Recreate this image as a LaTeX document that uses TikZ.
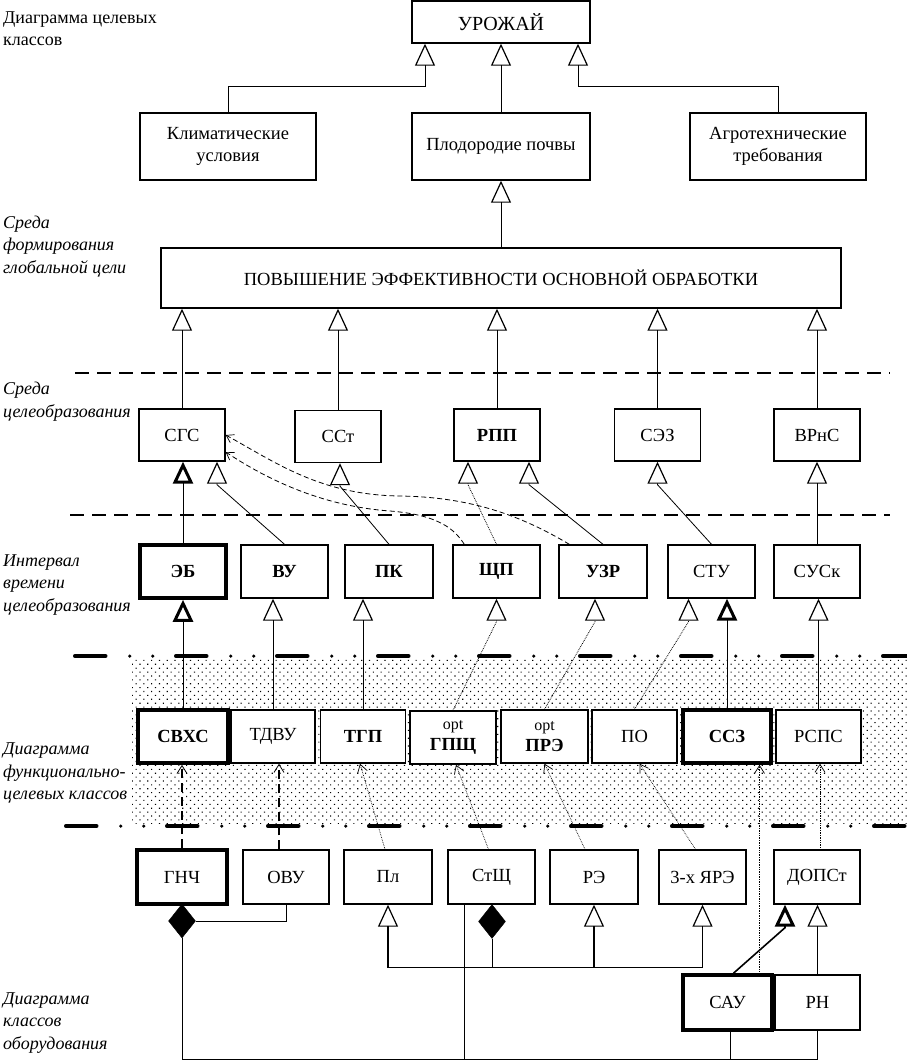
\documentclass[tikz,border=0pt]{standalone}
\usepackage{fontspec}
\setmainfont{Liberation Serif}
\usetikzlibrary{arrows.meta,shapes.geometric,patterns.meta}
\newcommand{\boxfont}{\fontsize{18.5}{22}\selectfont}
\newcommand{\zonefont}{\fontsize{18}{22.5}\selectfont\itshape}

\begin{document}
\begin{tikzpicture}[x=1pt, y=-1pt,
    box/.style={draw, fill=white, line width=1.4pt, inner sep=0pt,
        minimum width=86pt, minimum height=53pt, align=center, font=\boxfont},
    thickbox/.style={box, line width=3.6pt},
    boldtext/.style={font=\boxfont\bfseries},
    zone/.style={anchor=west, align=left, inner sep=0pt, font=\zonefont},
    gen/.style={line width=0.8pt, -{Triangle[open, length=22pt, width=20pt, line width=1.2pt]}},
    genthick/.style={line width=0.8pt, -{Triangle[open, length=22pt, width=20pt, line width=3pt]}},
    dep/.style={line width=0.7pt, densely dotted, -{Straight Barb[length=8pt, width=10pt, line width=0.7pt]}},
    depthick/.style={line width=1.6pt, dash pattern=on 9pt off 5pt, -{Straight Barb[length=8pt, width=10pt, line width=0.8pt]}},
    curvedep/.style={line width=0.8pt, dash pattern=on 5pt off 3pt, -{Straight Barb[length=7pt, width=9pt, line width=0.7pt]}},
    seam/.style={line width=1.7pt, dash pattern=on 14pt off 8pt},
    bandline/.style={line width=3.5pt, line cap=round, dash pattern=on 31pt off 24pt on 0pt off 23pt on 0pt off 23pt},
    comp/.style={diamond, draw, fill=black, inner sep=0pt, minimum width=27pt, minimum height=34pt}]

    \useasboundingbox (0,0) rectangle (907,1061);

    % zones on the left
    \node[zone, font=\fontsize{18}{22}\selectfont] (zTop) at (3,29) {Диаграмма целевых\\классов};
    \node[zone] (zGlob) at (3,246.5) {Среда\\формирования\\глобальной цели};
    \node[zone] (zGoal) at (3,401.5) {Среда\\целеобразования};
    \node[zone] (zTime) at (3,585) {Интервал\\времени\\целеобразования};
    \node[zone] (zFunc) at (3,773) {Диаграмма\\функционально-\\целевых классов};
    \node[zone] (zEquip) at (3,1023) {Диаграмма\\классов\\оборудования};

    % band of functional classes
    \fill[pattern={Dots[angle=45, distance=5.5pt, radius=0.8pt]}] (132,659) rectangle (907,823);
    \draw[bandline] (74.75,656) -- (907,656);
    \draw[bandline] (65.75,826) -- (907,826);
    \draw[seam] (75,373) -- (890,373);
    \draw[seam] (70,515) -- (890,515);

    % target classes
    \node[box, minimum width=178pt, minimum height=42pt, font=\fontsize{20}{24}\selectfont] (uro) at (501,22) {УРОЖАЙ};
    \node[box, minimum width=176pt, minimum height=67pt] (klim) at (228,146.5) {Климатические\\условия};
    \node[box, minimum width=178pt, minimum height=67pt] (plod) at (501,146.5) {Плодородие почвы};
    \node[box, minimum width=176pt, minimum height=67pt] (agro) at (778,146.5) {Агротехнические\\требования};
    \node[box, minimum width=680pt, minimum height=60pt] (povysh) at (501,278) {ПОВЫШЕНИЕ ЭФФЕКТИВНОСТИ ОСНОВНОЙ ОБРАБОТКИ};

    \draw[gen] (klim.north) -- ++(0,-26) -| ([xshift=-76pt]uro.south);
    \draw[gen] (plod.north) -- (uro.south);
    \draw[gen] (agro.north) -- ++(0,-26) -| ([xshift=77pt]uro.south);
    \draw[gen] (povysh.north) -- (plod.south);

    % goal environment
    \node[box, minimum height=52pt] (sgs) at (182,435) {СГС};
    \node[box, minimum height=52pt] (sst) at (338,436.5) {ССт};
    \node[box, minimum height=52pt, boldtext] (rpp) at (497,435) {РПП};
    \node[box, minimum height=52pt] (sez) at (657.5,435) {СЭЗ};
    \node[box, minimum height=52pt] (vrns) at (817,435) {ВРнС};

    \foreach \n in {sgs, sst, rpp, sez, vrns}
        \draw[gen] (\n.north) -- (\n.north |- povysh.south);

    % time interval
    \node[thickbox, boldtext] (eb) at (183,571.5) {ЭБ};
    \node[box, minimum width=87pt, boldtext] (vu) at (284.5,571.5) {ВУ};
    \node[box, minimum width=88pt, boldtext] (pk) at (389,571.5) {ПК};
    \node[box, minimum width=87pt, boldtext] (shp) at (496.5,571.5) {ЩП};
    \node[box, minimum width=88pt, boldtext] (uzr) at (603,571.5) {УЗР};
    \node[box, minimum width=87pt] (stu) at (711.5,571.5) {СТУ};
    \node[box] (susk) at (817,571.5) {СУСк};

    \draw[genthick] (eb.north) -- (eb.north |- sgs.south);
    \draw[gen] (vu.north) -- ([xshift=35pt, yshift=-23pt]sgs.south) -- ([xshift=35pt]sgs.south);
    \draw[gen] (pk.north) -- ([xshift=2pt, yshift=-23pt]sst.south) -- ([xshift=2pt]sst.south);
    \draw[gen, densely dotted] (shp.north) -- ([xshift=-29pt, yshift=-23pt]rpp.south) -- ([xshift=-29pt]rpp.south);
    \draw[gen] (uzr.north) -- ([xshift=32pt, yshift=-23pt]rpp.south) -- ([xshift=32pt]rpp.south);
    \draw[gen] (stu.north) -- ([yshift=-23pt]sez.south) -- (sez.south);
    \draw[gen] (susk.north) -- (susk.north |- vrns.south);

    \draw[curvedep] ([xshift=11pt]uzr.north west) .. controls (520,515) and (470,497) .. (400,496)
        .. controls (320,495) and (275,462) .. (sgs.east);
    \draw[curvedep] ([xshift=12pt]shp.north west) .. controls (455,530) and (440,515) .. (390,511)
        .. controls (320,506) and (265,478) .. ([yshift=-17pt]sgs.east);

    % functional-target classes
    \node[thickbox, minimum width=90pt, boldtext] (svhs) at (183,736.5) {СВХС};
    \node[box, minimum width=84pt] (tdvu) at (273,736.5) {ТДВУ};
    \node[box, minimum width=85pt, boldtext] (tgp) at (363,736.5) {ТГП};
    \node[box] (gpsh) at (453,737.5) {{\fontsize{16}{16}\selectfont opt}\\[-1pt]\textbf{ГПЩ}};
    \node[box, minimum width=87pt] (pre) at (544.5,736.5) {{\fontsize{16}{16}\selectfont opt}\\[-1pt]\textbf{ПРЭ}};
    \node[box, minimum width=85pt] (po) at (634.5,736.5) {ПО};
    \node[thickbox, minimum width=88pt, boldtext] (ssz) at (727,736.5) {ССЗ};
    \node[box, minimum width=85pt] (rsps) at (818.5,736.5) {РСПС};

    \draw[genthick] (svhs.north) -- (svhs.north |- eb.south);
    \draw[gen] (tdvu.north) -- (tdvu.north |- vu.south);
    \draw[gen] (tgp.north) -- (tgp.north |- pk.south);
    \draw[gen, densely dotted] (gpsh.north) -- ([yshift=-23pt]shp.south) -- (shp.south);
    \draw[gen, densely dotted] (pre.north) -- ([xshift=-8pt, yshift=-23pt]uzr.south) -- ([xshift=-8pt]uzr.south);
    \draw[gen, densely dotted] (po.north) -- ([xshift=-23pt, yshift=-23pt]stu.south) -- ([xshift=-23pt]stu.south);
    \draw[genthick] (ssz.north) -- (ssz.north |- stu.south);
    \draw[gen] (rsps.north) -- (rsps.north |- susk.south);

    % equipment classes
    \node[thickbox, minimum width=90pt, minimum height=54pt] (gnch) at (182,877) {ГНЧ};
    \node[box, minimum height=54pt] (ovu) at (286,877) {ОВУ};
    \node[box, minimum width=88pt, minimum height=54pt] (pl) at (388,877) {Пл};
    \node[box, minimum width=87pt, minimum height=54pt] (stsh) at (491.5,877) {СтЩ};
    \node[box, minimum width=88pt, minimum height=54pt] (re) at (594,877) {РЭ};
    \node[box, minimum width=87pt, minimum height=54pt] (yare) at (702.5,877) {3-х ЯРЭ};
    \node[box, minimum height=54pt] (dopst) at (817,877) {ДОПСт};
    \node[thickbox, minimum width=89pt, minimum height=55pt] (sau) at (727.5,1002.5) {САУ};
    \node[box, minimum width=85pt, minimum height=55pt] (rn) at (817.5,1002.5) {РН};

    \draw[depthick] (gnch.north) -- (gnch.north |- svhs.south);
    \draw[depthick] ([xshift=-7pt]ovu.north) -- ([xshift=-7pt]ovu.north |- tdvu.south);
    \draw[dep] ([xshift=-3pt]pl.north) -- ([xshift=-3pt]tgp.south);
    \draw[dep] ([xshift=-3pt]stsh.north) -- ([xshift=3pt]gpsh.south);
    \draw[dep] ([xshift=-9pt]re.north) -- (pre.south);
    \draw[dep] ([xshift=-7pt]yare.north) -- ([xshift=5pt]po.south);
    \draw[dep] ([xshift=32pt]sau.north) -- ([xshift=32pt]sau.north |- ssz.south);
    \draw[dep] ([xshift=3pt]dopst.north) -- ([xshift=3pt]dopst.north |- rsps.south);

    \node[comp] (dg) at (182,921) {};
    \node[comp] (ds) at (492,921.5) {};
    \draw[line width=0.8pt] (ovu.south) |- (dg.east);
    \draw[line width=0.8pt] (ds.south) -- ++(0,29) coordinate (js);
    \draw[gen, line width=1.2pt] (js) -| (pl.south);
    \draw[gen, line width=1.2pt] (js) -| (re.south);
    \draw[gen, line width=1.2pt] (js) -| (yare.south);

    \draw[genthick, line width=1.6pt] ([xshift=6pt]sau.north) -- ([xshift=-32pt, yshift=-23pt]dopst.south) -- ([xshift=-32pt]dopst.south);
    \draw[gen] (rn.north) -- (rn.north |- dopst.south);

    \coordinate (base) at (182,1059);
    \draw[line width=0.8pt] (dg.south) -- (base) -| (rn.south);
    \draw[line width=0.8pt] ([xshift=-27pt]stsh.south) -- ([xshift=-27pt]stsh.south |- base);
    \draw[line width=0.8pt] ([xshift=3pt]sau.south) -- ([xshift=3pt]sau.south |- base);
\end{tikzpicture}
\end{document}
